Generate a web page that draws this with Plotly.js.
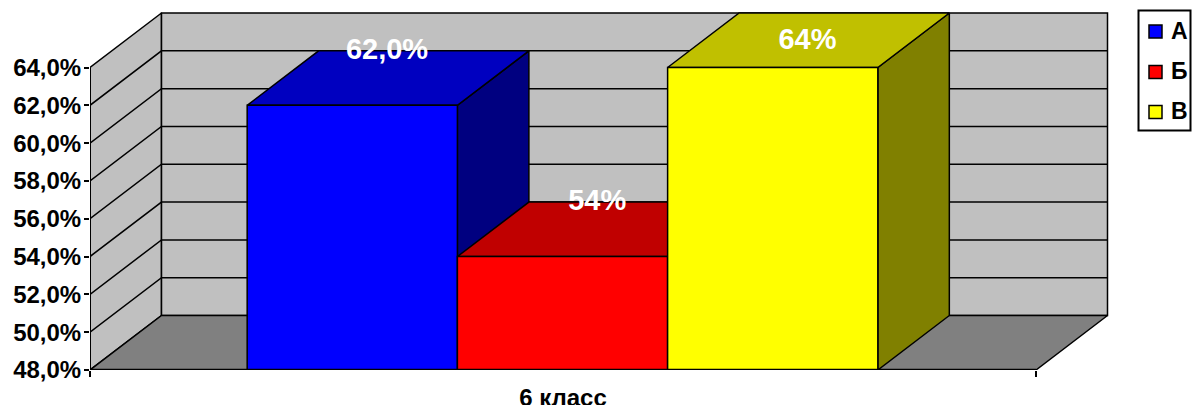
<!DOCTYPE html>
<html>
<head>
<meta charset="utf-8">
<script src="https://cdn.plot.ly/plotly-3.0.1.min.js"></script>
<style>html,body{margin:0;padding:0;background:#fff;overflow:hidden}</style>
</head>
<body>
<div id="chart" style="width:1193px;height:405px"></div>
<script>
const seriesNames = ['А', 'Б', 'В'];
const seriesValues = [62, 54, 64];
const valueLabels = ['62,0%', '54%', '64%'];
const frontColors = ['#0000ff', '#ff0000', '#ffff00'];
const topColors = ['#0000c0', '#c00000', '#c0c000'];
const sideColors = ['#000080', '#800000', '#808000'];
const yTickVals = [48, 50, 52, 54, 56, 58, 60, 62, 64];
const yTickText = ['48,0%', '50,0%', '52,0%', '54,0%', '56,0%', '58,0%', '60,0%', '62,0%', '64,0%'];
const categoryLabel = '6 класс';

// Oblique projection, expressed in axis units. The axes span the whole area to the
// right and top of the walls so the legend can be drawn on the same scales.
const W = 1193, H = 405;
const L = 90, R = W, T = 0, B = 370;
const frontW = 946, pxPerUnit = 302.5 / 16;
const dx = 71.5 / frontW, dy = 54.5 / pxPerUnit;
const yMin = 48, yTop = 64;
const barW = 1 / 4.5, barStart = 0.75 / 4.5 - 0.5 / frontW;
const font = {family: '"Liberation Sans", Arial, sans-serif', weight: 700, color: '#000'};
const labelCap = 65.4;
const labelDx = -1 / frontW, labelDy = -0.5 / pxPerUnit;

// pixel helpers for the legend block
const px = p => (p - L) / frontW;
const py = p => yMin + (B - p) / pxPerUnit;

const traces = [];
function poly(xs, ys, fill, lw) {
  traces.push({
    type: 'scatter', mode: 'lines', x: xs, y: ys, fill: 'toself', fillcolor: fill,
    line: {color: '#000', width: lw === undefined ? 1.5 : lw},
    showlegend: false, hoverinfo: 'skip', cliponaxis: false
  });
}
function line(xs, ys, lw) {
  traces.push({
    type: 'scatter', mode: 'lines', x: xs, y: ys,
    line: {color: '#000', width: lw || 1.5},
    showlegend: false, hoverinfo: 'skip', cliponaxis: false
  });
}

// walls and floor
poly([0, dx, dx, 0, 0], [yMin, yMin + dy, yTop + dy, yTop, yMin], '#c0c0c0');
poly([dx, 1 + dx, 1 + dx, dx, dx], [yMin + dy, yMin + dy, yTop + dy, yTop + dy, yMin + dy], '#c0c0c0');
poly([0, dx, 1 + dx, 1, 0], [yMin, yMin + dy, yMin + dy, yMin, yMin], '#808080');
// gridlines
yTickVals.slice(1, -1).forEach(v => line([0, dx, 1 + dx], [v, v + dy, v + dy]));

// bars, painted left to right
seriesValues.forEach((v, i) => {
  const x0 = barStart + barW * i, x1 = x0 + barW;
  poly([x1, x1 + dx, x1 + dx, x1, x1], [yMin, yMin + dy, v + dy, v, yMin], sideColors[i]);
  poly([x0, x0 + dx, x1 + dx, x1, x0], [v, v + dy, v + dy, v, v], topColors[i]);
  poly([x0, x1, x1, x0, x0], [yMin, yMin, v, v, yMin], frontColors[i]);
});

// axis lines
line([0, 0], [yMin, yTop], 2);
line([0, 1], [yMin, yMin], 2.5);

// data labels
traces.push({
  type: 'scatter', mode: 'text',
  x: seriesValues.map((v, i) => barStart + barW * (i + 0.5) + dx / 2 + labelDx),
  y: seriesValues.map(v => Math.min(v + dy, labelCap) + labelDy),
  text: valueLabels, textposition: 'middle center',
  textfont: Object.assign({}, font, {size: 29, color: '#fff'}),
  showlegend: false, hoverinfo: 'skip', cliponaxis: false
});

// legend entries
const legendRowY = [31.5, 72, 112];
const legendTextY = [33, 73.5, 113.5];
traces.push({
  type: 'scatter', mode: 'markers',
  x: seriesNames.map(() => px(1155.5)), y: legendRowY.map(py),
  marker: {symbol: 'square', size: 13, color: frontColors, line: {color: '#000', width: 1.5}},
  showlegend: false, hoverinfo: 'skip', cliponaxis: false
});
traces.push({
  type: 'scatter', mode: 'text',
  x: seriesNames.map(() => px(1171)), y: legendTextY.map(py),
  text: seriesNames, textposition: 'middle right',
  textfont: Object.assign({}, font, {size: 23}),
  showlegend: false, hoverinfo: 'skip', cliponaxis: false
});

const layout = {
  width: W, height: H,
  margin: {l: L, r: W - R, t: T, b: H - B, pad: 0, autoexpand: false},
  paper_bgcolor: '#fff', plot_bgcolor: 'rgba(0,0,0,0)',
  showlegend: false,
  shapes: [{
    type: 'rect', xref: 'x', yref: 'y', layer: 'below',
    x0: px(1138.5), x1: px(1190.5), y0: py(10.5), y1: py(130.5),
    fillcolor: '#fff', line: {color: '#000', width: 2}
  }],
  xaxis: {
    type: 'linear', range: [0, (R - L) / frontW],
    showgrid: false, zeroline: false, showline: false,
    tickmode: 'array', tickvals: [0.5], ticktext: [categoryLabel],
    ticks: 'outside', ticklen: 6, tickcolor: 'rgba(0,0,0,0)',
    tickfont: Object.assign({}, font, {size: 24}),
    minor: {tickmode: 'array', tickvals: [0, 1], ticks: 'outside', ticklen: 6, tickwidth: 2, tickcolor: '#000', showgrid: false}
  },
  yaxis: {
    type: 'linear', range: [yMin, yMin + (B - T) / pxPerUnit],
    showgrid: false, zeroline: false, showline: false,
    tickmode: 'array', tickvals: yTickVals, ticktext: yTickText,
    ticks: 'outside', ticklen: 3, tickwidth: 2, tickcolor: '#000',
    tickfont: Object.assign({}, font, {size: 24}),
    minor: {tickmode: 'array', tickvals: yTickVals, ticks: 'outside', ticklen: 5, tickwidth: 2, tickcolor: '#000', showgrid: false}
  }
};
Plotly.newPlot('chart', traces, layout, {displayModeBar: false, staticPlot: true});
</script>
</body>
</html>
